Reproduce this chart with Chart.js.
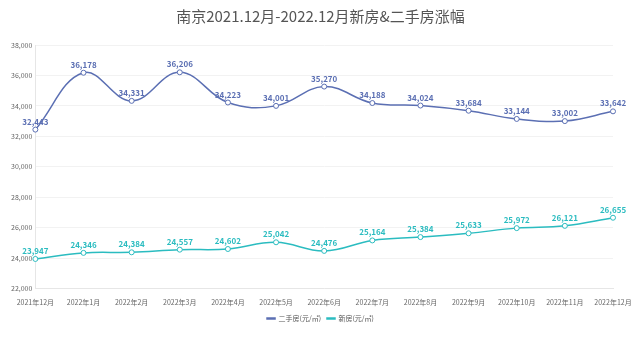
<!DOCTYPE html>
<html>
<head>
<meta charset="utf-8">
<script src="https://cdn.jsdelivr.net/npm/chart.js@4"></script>
<style>
  html, body { margin: 0; padding: 0; background: #fff; }
  #wrap { width: 641px; height: 341px; }
</style>
</head>
<body>
<div id="wrap"><canvas id="c"></canvas></div>
<script>
// 月份
const months = ['2021年12月', '2022年1月', '2022年2月', '2022年3月', '2022年4月', '2022年5月',
  '2022年6月', '2022年7月', '2022年8月', '2022年9月', '2022年10月', '2022年11月', '2022年12月'];
// 二手房 (元/㎡)
const secondHand = [32443, 36178, 34331, 36206, 34223, 34001, 35270, 34188, 34024, 33684, 33144, 33002, 33642];
// 新房 (元/㎡)
const newHouse = [23947, 24346, 24384, 24557, 24602, 25042, 24476, 25164, 25384, 25633, 25972, 26121, 26655];

const titleText = '南京2021.12月-2022.12月新房&二手房涨幅';
const font = "'Noto Sans CJK SC', 'Noto Sans', sans-serif";

// 在點上方畫數值，標題置中於整個畫布
const valueLabels = {
  id: 'valueLabels',
  afterLayout(chart) {
    // 圖例也置中於整個畫布
    const shift = (chart.width - chart.legend.left - chart.legend.right) / 2;
    chart.legend.left += shift;
    chart.legend.right += shift;
  },
  afterDatasetsDraw(chart) {
    const ctx = chart.ctx;
    ctx.save();
    ctx.font = 'bold 8px ' + font;
    ctx.textAlign = 'center';
    ctx.textBaseline = 'bottom';
    chart.data.datasets.forEach((ds, i) => {
      chart.getDatasetMeta(i).data.forEach((pt, j) => {
        ctx.fillStyle = ds.borderColor;
        ctx.fillText(ds.data[j].toLocaleString('en-US'), pt.x, pt.y - 4);
      });
    });
    ctx.font = '15px ' + font;
    ctx.fillStyle = '#555';
    ctx.textBaseline = 'middle';
    ctx.fillText(titleText, chart.width / 2, 16);
    ctx.restore();
  }
};

new Chart(document.getElementById('c'), {
  type: 'line',
  data: {
    labels: months,
    datasets: [{
      label: '二手房(元/㎡)',
      data: secondHand,
      borderColor: '#5b6fb3',
      backgroundColor: '#fff',
      borderWidth: 1.5,
      tension: 0.4,
      pointRadius: 2.5,
      pointBorderWidth: 1,
      pointBackgroundColor: '#fff'
    }, {
      label: '新房(元/㎡)',
      data: newHouse,
      borderColor: '#2bbcc0',
      backgroundColor: '#fff',
      borderWidth: 1.5,
      tension: 0.4,
      pointRadius: 2.5,
      pointBorderWidth: 1,
      pointBackgroundColor: '#fff'
    }]
  },
  options: {
    responsive: true,
    maintainAspectRatio: false,
    animation: false,
    layout: { padding: { left: 8, right: 28, top: 45, bottom: 9 } },
    scales: {
      x: {
        offset: false,
        grid: { display: false },
        border: { color: '#e6e6e6' },
        ticks: { color: '#666', font: { size: 7, family: font }, maxRotation: 0, autoSkip: false, padding: 2 }
      },
      y: {
        min: 22000,
        max: 38000,
        ticks: { stepSize: 2000, color: '#666', font: { size: 7, family: font }, padding: 3 },
        grid: { color: '#f2f2f2', drawTicks: false },
        border: { color: '#e6e6e6' }
      }
    },
    plugins: {
      legend: {
        position: 'bottom',
        labels: {
          color: '#555',
          font: { size: 7, family: font },
          boxWidth: 8,
          boxHeight: 1,
          padding: 6
        }
      },
      tooltip: { enabled: false }
    }
  },
  plugins: [valueLabels]
});
</script>
</body>
</html>
